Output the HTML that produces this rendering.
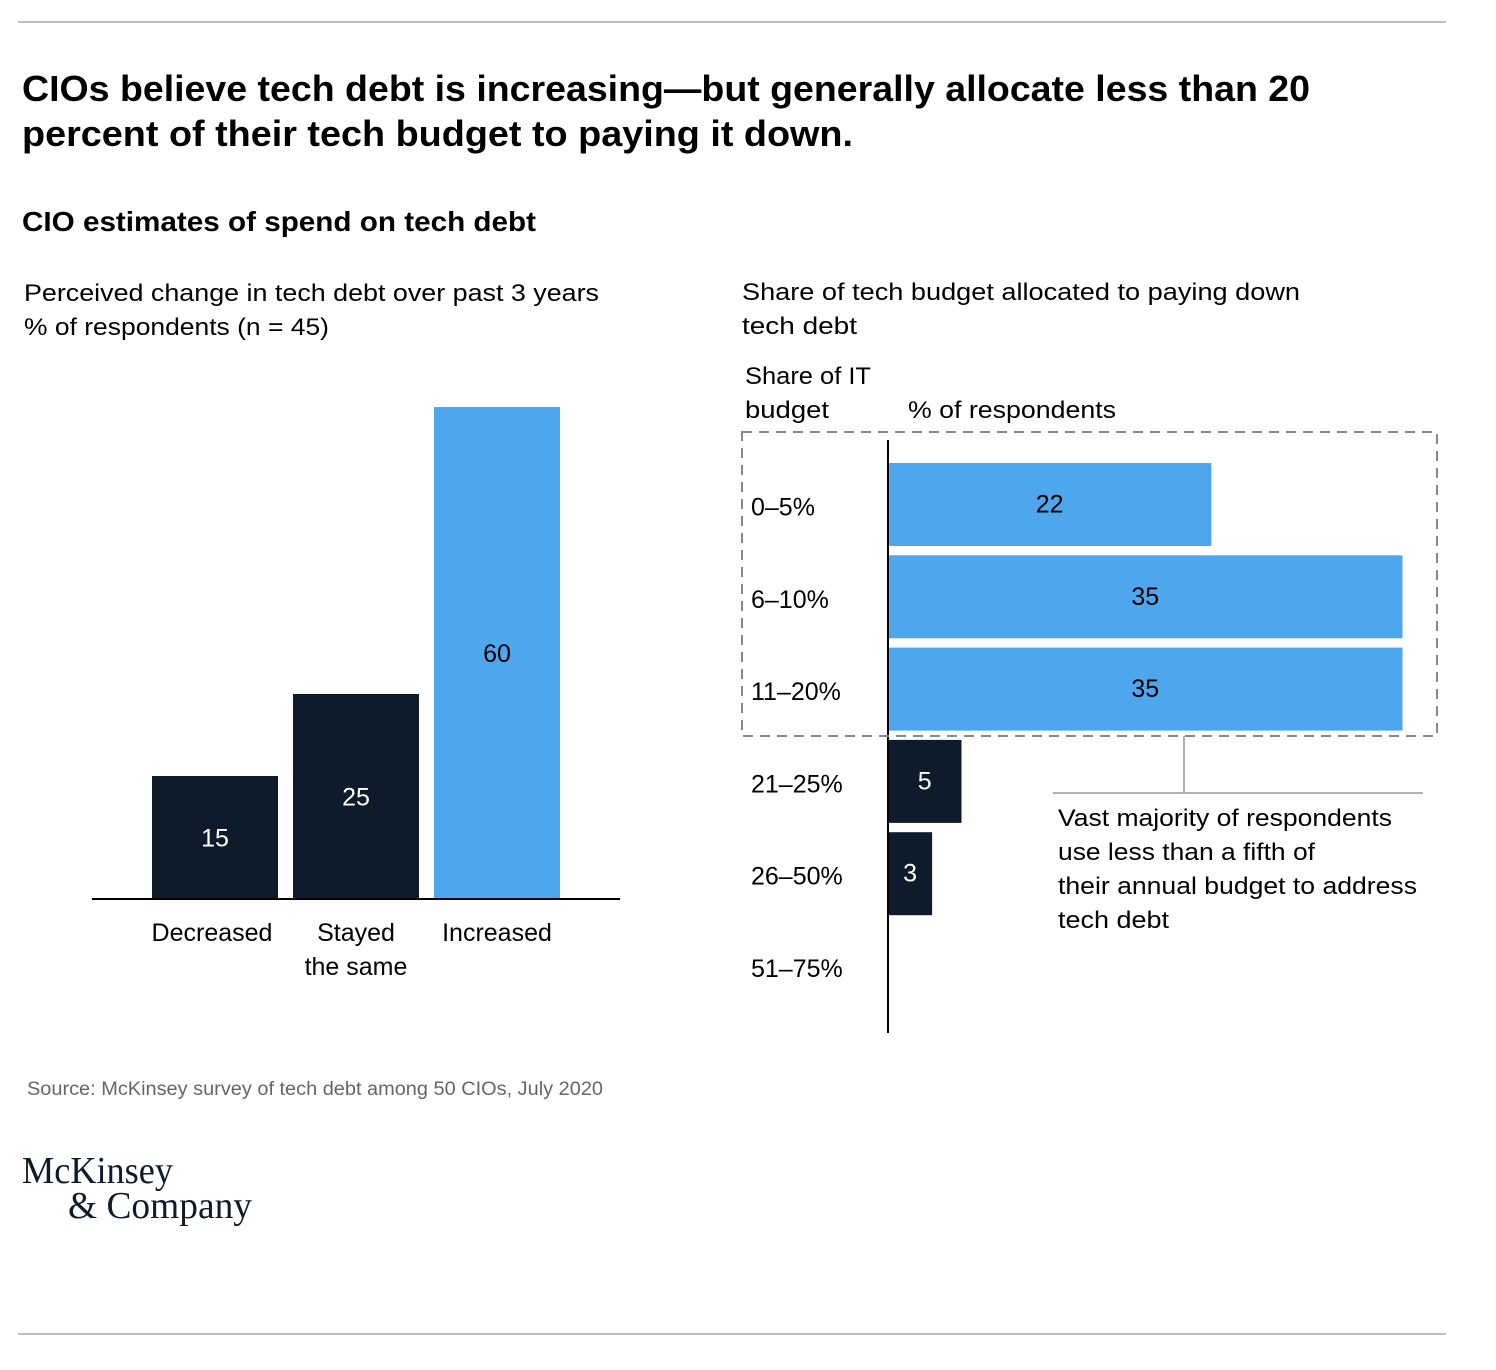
<!DOCTYPE html>
<html><head><meta charset="utf-8"><style>
html,body{margin:0;padding:0;background:#fff;}
svg{display:block;font-family:"Liberation Sans",sans-serif;}
</style></head><body>
<svg id="chart" width="1496" height="1370" viewBox="0 0 1496 1370" xmlns="http://www.w3.org/2000/svg">
<line x1="18" y1="22" x2="1446" y2="22" stroke="#bdbdbd" stroke-width="2"/>
<line x1="18" y1="1334" x2="1446" y2="1334" stroke="#bdbdbd" stroke-width="2"/>
<g font-weight="bold" font-size="36" fill="#000">
<text x="22" y="101" textLength="1288" lengthAdjust="spacingAndGlyphs">CIOs believe tech debt is increasing—but generally allocate less than 20</text>
<text x="22" y="146" textLength="831" lengthAdjust="spacingAndGlyphs">percent of their tech budget to paying it down.</text>
</g>
<text x="22" y="231" font-size="28" font-weight="bold" textLength="514" lengthAdjust="spacingAndGlyphs">CIO estimates of spend on tech debt</text>
<text x="24" y="301" font-size="24" textLength="575" lengthAdjust="spacingAndGlyphs">Perceived change in tech debt over past 3 years</text>
<text x="24" y="335" font-size="24" textLength="305" lengthAdjust="spacingAndGlyphs">% of respondents (n = 45)</text>
<text x="742" y="300" font-size="24" textLength="558" lengthAdjust="spacingAndGlyphs">Share of tech budget allocated to paying down</text>
<text x="742" y="334" font-size="24" textLength="115" lengthAdjust="spacingAndGlyphs">tech debt</text>
<text x="745" y="384" font-size="24" textLength="126" lengthAdjust="spacingAndGlyphs">Share of IT</text>
<text x="745" y="418" font-size="24" textLength="84" lengthAdjust="spacingAndGlyphs">budget</text>
<text x="908" y="418" font-size="24" textLength="208" lengthAdjust="spacingAndGlyphs">% of respondents</text>
<g id="left"></g>
<g id="right"></g>
<rect x="742" y="432" width="695" height="304" fill="none" stroke="#888" stroke-width="2" stroke-dasharray="10,7"/>
<line x1="1184" y1="736" x2="1184" y2="793" stroke="#999" stroke-width="1.5"/>
<line x1="1053" y1="793" x2="1423" y2="793" stroke="#999" stroke-width="1.5"/>
<g font-size="24" fill="#000">
<text x="1058" y="826" textLength="334" lengthAdjust="spacingAndGlyphs">Vast majority of respondents</text>
<text x="1058" y="860" textLength="257" lengthAdjust="spacingAndGlyphs">use less than a fifth of</text>
<text x="1058" y="894" textLength="359" lengthAdjust="spacingAndGlyphs">their annual budget to address</text>
<text x="1058" y="928" textLength="111" lengthAdjust="spacingAndGlyphs">tech debt</text>
</g>
<text x="27" y="1095" font-size="19" fill="#666" textLength="576" lengthAdjust="spacingAndGlyphs">Source: McKinsey survey of tech debt among 50 CIOs, July 2020</text>
<g font-family="Liberation Serif, serif" font-size="38" fill="#0f1b2d">
<text x="22" y="1183" textLength="151" lengthAdjust="spacingAndGlyphs">McKinsey</text>
<text x="68" y="1218" textLength="184" lengthAdjust="spacingAndGlyphs">&amp; Company</text>
</g>
</svg>
<script>
const leftCategories = ["Decreased", "Stayed|the same", "Increased"];
const leftValues = [15, 25, 60];
const rightCategories = ["0–5%", "6–10%", "11–20%", "21–25%", "26–50%", "51–75%"];
const rightValues = [22, 35, 35, 5, 3, 0];

const NS = "http://www.w3.org/2000/svg";
const DARK = "#0d1b2c", BLUE = "#4ea6ec";
function mk(tag, attrs, parent){const e=document.createElementNS(NS,tag);for(const k in attrs)e.setAttribute(k,attrs[k]);parent.appendChild(e);return e;}

// Left chart
const L = document.getElementById("left");
const baseY = 899, yScale = v => baseY - v * 8.2;
const barW = 126, x0 = 152, step = 141;
leftValues.forEach((v,i)=>{
  const x = x0 + i*step, top = yScale(v);
  const r = mk("rect",{x:x,y:top,width:barW,height:baseY-top,fill:i===2?BLUE:DARK},L);
  
  
  const t = mk("text",{x:x+barW/2,y:(top+baseY)/2+9,"text-anchor":"middle","font-size":25,fill:i===2?"#000":"#fff"},L);
  t.textContent = v;
  
  
  leftCategories[i].split('|').forEach((ln,j)=>{
    const c = mk("text",{x:x+barW/2-(i===0?3:0),y:941+j*34,"text-anchor":"middle","font-size":25,fill:"#000"},L);
    c.textContent = ln;
    
    
  });
});
const bl = mk("line",{x1:92,y1:baseY,x2:620,y2:baseY,stroke:"#000","stroke-width":2},L);



// Right chart
const R = document.getElementById("right");
const axX = 888, xScale = v => axX + v * 14.7;
const rowTop = 463, rowStep = 92.3, rowH = 83;
rightValues.forEach((v,i)=>{
  const y = rowTop + i*rowStep;
  const blue = i < 3;
  if (v > 0) {
    const r = mk("rect",{x:axX,y:y,width:xScale(v)-axX,height:rowH,fill:blue?BLUE:DARK},R);
    
    
    const t = mk("text",{x:(axX+xScale(v))/2,y:y+rowH/2+8,"text-anchor":"middle","font-size":25,fill:blue?"#000":"#fff"},R);
    t.textContent = v;
    
    
  }
  const c = mk("text",{x:751,y:y+rowH/2+11,"font-size":25,fill:"#000"},R);
  c.textContent = rightCategories[i];
  
  
});
const ax = mk("line",{x1:axX,y1:440,x2:axX,y2:1033,stroke:"#000","stroke-width":2},R);


</script>
</body></html>
